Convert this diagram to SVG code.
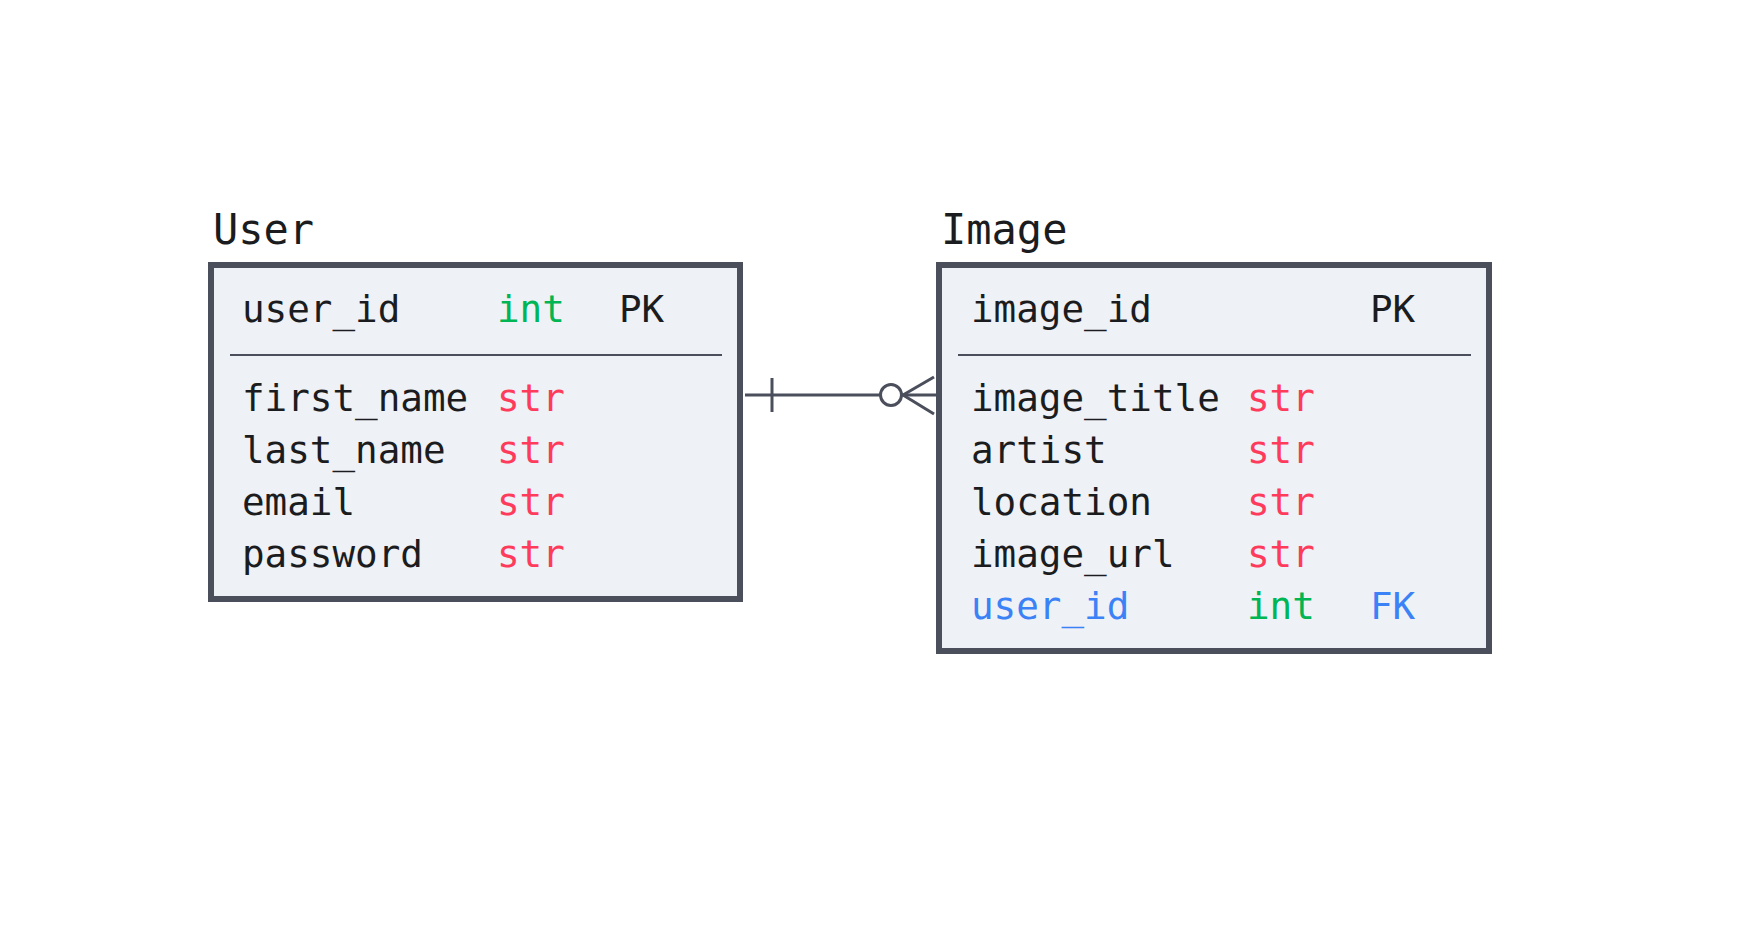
<svg xmlns="http://www.w3.org/2000/svg" width="1752" height="930" viewBox="0 0 1752 930">
<style>
.box{fill:#eef1f6;stroke:#4b4f5c;stroke-width:6}
.div{stroke:#4b4f5c;stroke-width:2}
text{font-family:"DejaVu Sans Mono","Liberation Mono",monospace;font-size:37.6px;fill:#1b1c20}
.title{font-size:42px}
.str{fill:#ff3b5c}
.int{fill:#00b554}
.fk{fill:#3b82f6}
.conn{stroke:#4b4f5c;stroke-width:3;fill:none}
</style>
<rect width="1752" height="930" fill="#ffffff"/>
<g id="connectors">
<line class="conn" x1="745" y1="395" x2="936" y2="395"/>
<line class="conn" x1="772" y1="378" x2="772" y2="412"/>
<circle class="conn" cx="891" cy="395" r="10.5" style="fill:#ffffff"/>
<line class="conn" x1="903" y1="395" x2="934" y2="377"/>
<line class="conn" x1="903" y1="395" x2="934" y2="414"/>
</g>
<g id="node-user">
<text class="title" x="213" y="244">User</text>
<rect class="box" x="211" y="265" width="529" height="334"/>
<line class="div" x1="230" y1="355" x2="722" y2="355"/>
<text x="242" y="322">user_id</text>
<text class="int" x="497" y="322">int</text>
<text x="619" y="322">PK</text>
<text x="242" y="411">first_name</text>
<text class="str" x="497" y="411">str</text>
<text x="242" y="463">last_name</text>
<text class="str" x="497" y="463">str</text>
<text x="242" y="515">email</text>
<text class="str" x="497" y="515">str</text>
<text x="242" y="567">password</text>
<text class="str" x="497" y="567">str</text>
</g>
<g id="node-image">
<text class="title" x="941" y="244">Image</text>
<rect class="box" x="939" y="265" width="550" height="386"/>
<line class="div" x1="958" y1="355" x2="1471" y2="355"/>
<text x="971" y="322">image_id</text>
<text x="1370" y="322">PK</text>
<text x="971" y="411">image_title</text>
<text class="str" x="1247" y="411">str</text>
<text x="971" y="463">artist</text>
<text class="str" x="1247" y="463">str</text>
<text x="971" y="515">location</text>
<text class="str" x="1247" y="515">str</text>
<text x="971" y="567">image_url</text>
<text class="str" x="1247" y="567">str</text>
<text class="fk" x="971" y="619">user_id</text>
<text class="int" x="1247" y="619">int</text>
<text class="fk" x="1370" y="619">FK</text>
</g>
</svg>
